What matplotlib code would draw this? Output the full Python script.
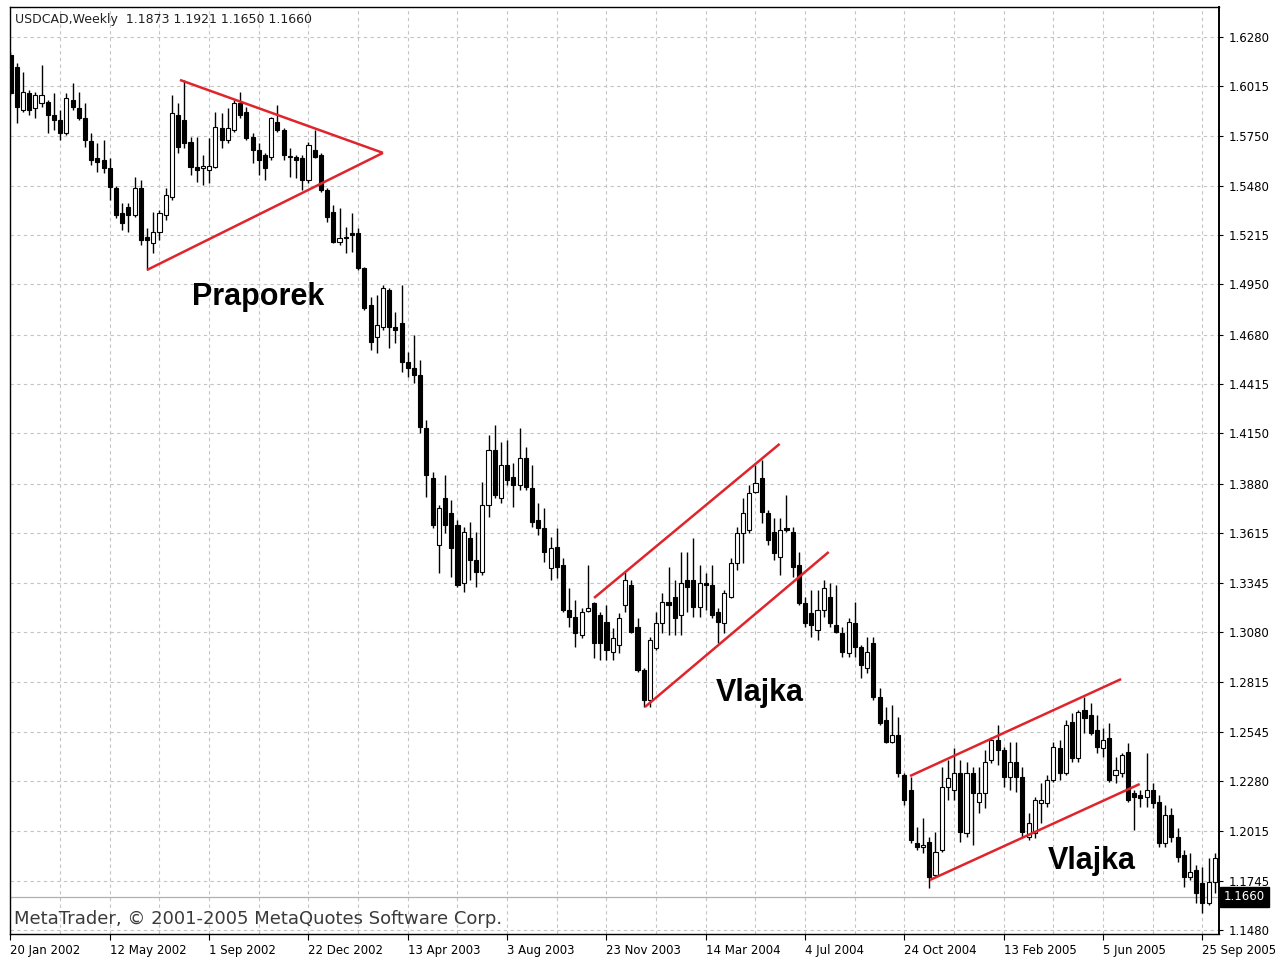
import matplotlib
matplotlib.use("Agg")
import matplotlib.pyplot as plt
import matplotlib.transforms as mtransforms
import numpy as np

# weekly USDCAD bars, 20 Jan 2002 .. 9 Oct 2005
opens = [
    1.6183, 1.6119, 1.5888, 1.5979, 1.5898, 1.5925, 1.5931, 1.5861, 1.5834, 1.5764,
    1.5941, 1.5898, 1.5845, 1.5721, 1.5630, 1.5619, 1.5576, 1.5469, 1.5334, 1.5366,
    1.5323, 1.5469, 1.5205, 1.5173, 1.5232, 1.5323, 1.5420, 1.5861, 1.5834, 1.5716,
    1.5581, 1.5576, 1.5565, 1.5581, 1.5791, 1.5726, 1.5780, 1.5925, 1.5877, 1.5743,
    1.5673, 1.5646, 1.5635, 1.5823, 1.5780, 1.5635, 1.5635, 1.5630, 1.5511, 1.5673,
    1.5646, 1.5458, 1.5339, 1.5178, 1.5205, 1.5227, 1.5227, 1.5039, 1.4840, 1.4668,
    1.4721, 1.4920, 1.4721, 1.4743, 1.4533, 1.4501, 1.4463, 1.4178, 1.3910, 1.3550,
    1.3802, 1.3722, 1.3657, 1.3345, 1.3587, 1.3469, 1.3404, 1.3765, 1.4060, 1.3802,
    1.3980, 1.3915, 1.3872, 1.4017, 1.3856, 1.3684, 1.3641, 1.3426, 1.3539, 1.3442,
    1.3200, 1.3162, 1.3066, 1.3195, 1.3238, 1.3173, 1.3136, 1.2974, 1.3012, 1.3227,
    1.3334, 1.3109, 1.2878, 1.2716, 1.2996, 1.3130, 1.3243, 1.3270, 1.3173, 1.3361,
    1.3361, 1.3216, 1.3345, 1.3334, 1.3189, 1.3130, 1.3270, 1.3453, 1.3614, 1.3630,
    1.3834, 1.3910, 1.3722, 1.3620, 1.3485, 1.3641, 1.3620, 1.3442, 1.3238, 1.3184,
    1.3093, 1.3200, 1.3270, 1.3120, 1.3077, 1.2969, 1.3130, 1.3001, 1.2888, 1.3023,
    1.2733, 1.2609, 1.2491, 1.2528, 1.2313, 1.2233, 1.1948, 1.1926, 1.1953, 1.1776,
    1.1910, 1.2249, 1.2233, 1.2324, 1.2002, 1.2324, 1.2168, 1.2217, 1.2394, 1.2501,
    1.2448, 1.2303, 1.2383, 1.2303, 1.1980, 1.2002, 1.2163, 1.2163, 1.2286, 1.2458,
    1.2324, 1.2598, 1.2405, 1.2663, 1.2636, 1.2555, 1.2458, 1.2512, 1.2313, 1.2324,
    1.2437, 1.2217, 1.2206, 1.2195, 1.2233, 1.2168, 1.1948, 1.2098, 1.1980, 1.1883,
    1.1765, 1.1803, 1.1733, 1.1625, 1.1738,
]
highs = [
    1.6199, 1.6140, 1.6092, 1.5995, 1.5984, 1.6129, 1.5941, 1.5979, 1.5888, 1.5979,
    1.6033, 1.5984, 1.5925, 1.5764, 1.5710, 1.5726, 1.5630, 1.5479, 1.5388, 1.5388,
    1.5528, 1.5511, 1.5254, 1.5339, 1.5350, 1.5469, 1.5968, 1.5925, 1.6049, 1.5743,
    1.5743, 1.5646, 1.5737, 1.5877, 1.5872, 1.5898, 1.5941, 1.5984, 1.5904, 1.5764,
    1.5710, 1.5657, 1.5850, 1.5915, 1.5791, 1.5683, 1.5646, 1.5646, 1.5716, 1.5780,
    1.5657, 1.5469, 1.5377, 1.5361, 1.5259, 1.5334, 1.5254, 1.5044, 1.4883, 1.4893,
    1.4947, 1.4931, 1.4802, 1.4947, 1.4587, 1.4678, 1.4544, 1.4221, 1.3942, 1.3765,
    1.3926, 1.3791, 1.3684, 1.3646, 1.3673, 1.3620, 1.3888, 1.4141, 1.4195, 1.4103,
    1.4114, 1.3990, 1.4178, 1.4076, 1.3980, 1.3775, 1.3749, 1.3593, 1.3641, 1.3479,
    1.3318, 1.3254, 1.3211, 1.3442, 1.3243, 1.3189, 1.3227, 1.3103, 1.3184, 1.3404,
    1.3361, 1.3157, 1.2888, 1.3055, 1.3189, 1.3292, 1.3431, 1.3361, 1.3512, 1.3512,
    1.3587, 1.3442, 1.3399, 1.3442, 1.3211, 1.3308, 1.3479, 1.3646, 1.3802, 1.3872,
    1.3980, 1.4006, 1.3738, 1.3695, 1.3695, 1.3818, 1.3646, 1.3512, 1.3270, 1.3308,
    1.3308, 1.3361, 1.3345, 1.3334, 1.3109, 1.3157, 1.3243, 1.3012, 1.3055, 1.3055,
    1.2781, 1.2679, 1.2690, 1.2625, 1.2324, 1.2303, 1.2034, 1.2082, 1.1980, 1.2007,
    1.2356, 1.2394, 1.2458, 1.2394, 1.2383, 1.2356, 1.2356, 1.2448, 1.2517, 1.2582,
    1.2464, 1.2491, 1.2491, 1.2356, 1.2109, 1.2195, 1.2270, 1.2313, 1.2491, 1.2501,
    1.2609, 1.2646, 1.2663, 1.2733, 1.2700, 1.2636, 1.2566, 1.2593, 1.2410, 1.2432,
    1.2485, 1.2233, 1.2233, 1.2432, 1.2270, 1.2206, 1.2152, 1.2136, 1.2029, 1.1910,
    1.1894, 1.1829, 1.1819, 1.1867, 1.1894,
]
lows = [
    1.5968, 1.5818, 1.5877, 1.5861, 1.5845, 1.5904, 1.5764, 1.5780, 1.5726, 1.5753,
    1.5888, 1.5834, 1.5689, 1.5592, 1.5554, 1.5549, 1.5404, 1.5307, 1.5243, 1.5232,
    1.5313, 1.5162, 1.5028, 1.5119, 1.5189, 1.5296, 1.5404, 1.5657, 1.5683, 1.5538,
    1.5501, 1.5485, 1.5495, 1.5576, 1.5683, 1.5710, 1.5770, 1.5845, 1.5726, 1.5603,
    1.5538, 1.5511, 1.5619, 1.5770, 1.5619, 1.5528, 1.5522, 1.5458, 1.5495, 1.5630,
    1.5447, 1.5286, 1.5173, 1.5162, 1.5119, 1.5124, 1.5028, 1.4813, 1.4598, 1.4582,
    1.4705, 1.4608, 1.4635, 1.4479, 1.4453, 1.4420, 1.4152, 1.3808, 1.3641, 1.3399,
    1.3614, 1.3378, 1.3324, 1.3297, 1.3361, 1.3324, 1.3388, 1.3700, 1.3802, 1.3775,
    1.3872, 1.3754, 1.3845, 1.3845, 1.3646, 1.3603, 1.3458, 1.3361, 1.3372, 1.3189,
    1.3109, 1.3001, 1.3050, 1.3189, 1.2942, 1.2931, 1.2931, 1.2931, 1.2969, 1.3189,
    1.3077, 1.2867, 1.2679, 1.2679, 1.2985, 1.3077, 1.3066, 1.3066, 1.3066, 1.3189,
    1.3162, 1.3162, 1.3200, 1.3157, 1.3023, 1.3077, 1.3265, 1.3415, 1.3453, 1.3614,
    1.3829, 1.3668, 1.3550, 1.3469, 1.3388, 1.3620, 1.3378, 1.3227, 1.3109, 1.3055,
    1.3039, 1.3162, 1.3109, 1.3077, 1.2948, 1.2948, 1.2948, 1.2835, 1.2861, 1.2716,
    1.2582, 1.2485, 1.2485, 1.2303, 1.2152, 1.1948, 1.1910, 1.1894, 1.1706, 1.1765,
    1.1899, 1.2179, 1.2179, 1.1953, 1.1980, 1.1937, 1.2109, 1.2136, 1.2378, 1.2367,
    1.2249, 1.2233, 1.2222, 1.1980, 1.1964, 1.1975, 1.2055, 1.2142, 1.2276, 1.2286,
    1.2313, 1.2383, 1.2383, 1.2539, 1.2528, 1.2432, 1.2410, 1.2276, 1.2270, 1.2303,
    1.2168, 1.2018, 1.2142, 1.2142, 1.2136, 1.1926, 1.1926, 1.1953, 1.1846, 1.1711,
    1.1749, 1.1625, 1.1571, 1.1614, 1.1679,
]
closes = [
    1.5979, 1.5904, 1.5984, 1.5888, 1.5968, 1.5968, 1.5861, 1.5834, 1.5764, 1.5952,
    1.5904, 1.5845, 1.5726, 1.5619, 1.5608, 1.5576, 1.5474, 1.5323, 1.5280, 1.5323,
    1.5469, 1.5189, 1.5189, 1.5232, 1.5334, 1.5431, 1.5872, 1.5689, 1.5710, 1.5581,
    1.5565, 1.5587, 1.5587, 1.5796, 1.5726, 1.5791, 1.5925, 1.5861, 1.5737, 1.5673,
    1.5619, 1.5576, 1.5845, 1.5780, 1.5646, 1.5641, 1.5619, 1.5511, 1.5700, 1.5635,
    1.5458, 1.5313, 1.5178, 1.5200, 1.5200, 1.5216, 1.5039, 1.4824, 1.4641, 1.4732,
    1.4931, 1.4721, 1.4705, 1.4533, 1.4501, 1.4463, 1.4184, 1.3926, 1.3657, 1.3749,
    1.3657, 1.3534, 1.3335, 1.3620, 1.3469, 1.3404, 1.3765, 1.4060, 1.3818, 1.3980,
    1.3899, 1.3872, 1.4017, 1.3861, 1.3673, 1.3641, 1.3512, 1.3534, 1.3431, 1.3200,
    1.3162, 1.3077, 1.3189, 1.3211, 1.3023, 1.3023, 1.2985, 1.3050, 1.3157, 1.3361,
    1.3082, 1.2878, 1.2716, 1.3039, 1.3130, 1.3243, 1.3227, 1.3157, 1.3345, 1.3324,
    1.3216, 1.3345, 1.3334, 1.3173, 1.3136, 1.3292, 1.3453, 1.3614, 1.3722, 1.3829,
    1.3883, 1.3727, 1.3576, 1.3507, 1.3630, 1.3630, 1.3431, 1.3238, 1.3130, 1.3120,
    1.3200, 1.3318, 1.3130, 1.3082, 1.2974, 1.3136, 1.3001, 1.2904, 1.2974, 1.2733,
    1.2593, 1.2491, 1.2528, 1.2324, 1.2179, 1.1964, 1.1926, 1.1937, 1.1765, 1.1899,
    1.2249, 1.2297, 1.2324, 1.2007, 1.2324, 1.2217, 1.2217, 1.2383, 1.2501, 1.2448,
    1.2303, 1.2383, 1.2303, 1.2007, 1.2055, 1.2179, 1.2179, 1.2286, 1.2464, 1.2324,
    1.2582, 1.2405, 1.2652, 1.2620, 1.2539, 1.2464, 1.2501, 1.2286, 1.2340, 1.2421,
    1.2179, 1.2195, 1.2190, 1.2233, 1.2163, 1.1948, 1.2098, 1.1980, 1.1872, 1.1765,
    1.1792, 1.1679, 1.1625, 1.1738, 1.1867,
]

date_labels = ["20 Jan 2002", "12 May 2002", "1 Sep 2002", "22 Dec 2002", "13 Apr 2003",
               "3 Aug 2003", "23 Nov 2003", "14 Mar 2004", "4 Jul 2004", "24 Oct 2004",
               "13 Feb 2005", "5 Jun 2005", "25 Sep 2005"]
price_ticks = [1.6280, 1.6015, 1.5750, 1.5480, 1.5215, 1.4950, 1.4680, 1.4415, 1.4150, 1.3880,
               1.3615, 1.3345, 1.3080, 1.2815, 1.2545, 1.2280, 1.2015, 1.1745, 1.1480]
last_price = 1.1660

# drawn pattern lines: (bar index, price) pairs
pennant_upper = [(27.3, 1.6049), (60.0, 1.5657)]
pennant_lower = [(22.0, 1.5028), (60.0, 1.5657)]
flag1_upper = [(94.0, 1.3265), (123.9, 1.4093)]
flag1_lower = [(102.2, 1.2679), (131.8, 1.3512)]
flag2_upper = [(144.9, 1.2308), (178.9, 1.2829)]
flag2_lower = [(148.1, 1.1749), (181.9, 1.2265)]
pattern_names = [("Praporek", 39.9, 1.4883), ("Vlajka", 120.7, 1.2754), ("Vlajka", 174.2, 1.1850)]

o = np.array(opens)
h = np.array(highs)
l = np.array(lows)
c = np.array(closes)
x = np.arange(len(o))

fig = plt.figure(figsize=(12.78, 9.59), dpi=100)
ax = fig.add_axes([10 / 1278, 25 / 959, 1209 / 1278, 927 / 959])

# grid
grid_kw = dict(color="#c4c4c4", lw=0.8, linestyle=(0, (3, 3)), zorder=0)
for xv in range(0, len(o), 8):
    ax.axvline(xv, **grid_kw)
for yv in price_ticks:
    ax.axhline(yv, **grid_kw)

ax.axhline(last_price, color="#b0b0b0", lw=0.9, zorder=1)

# candles
up = c >= o
ax.vlines(x, l, h, color="black", lw=1.0, zorder=2)
body_h = np.maximum(np.abs(c - o), 0.0003)
ax.bar(x, body_h, bottom=np.minimum(o, c), width=0.66,
       color=np.where(up, "white", "black"), edgecolor="black", lw=0.8, zorder=3)

red = "#e0242c"
for seg in [pennant_upper, pennant_lower, flag1_upper, flag1_lower, flag2_upper, flag2_lower]:
    xs, ys = zip(*seg)
    ax.plot(xs, ys, color=red, lw=1.8, solid_capstyle="butt", zorder=4)

for name, px, py in pattern_names:
    ax.text(px, py, name, fontsize=22, fontweight="bold", family="Liberation Sans",
            ha="center", va="center", zorder=5)

ax.text(0.004, 0.993, "USDCAD,Weekly  1.1873 1.1921 1.1650 1.1660", transform=ax.transAxes,
        fontsize=9, ha="left", va="top", color="#202020")
ax.text(0.003, 0.0165, "MetaTrader, \u00a9 2001-2005 MetaQuotes Software Corp.", transform=ax.transAxes,
        fontsize=13, ha="left", va="center", color="#3a3a3a")

ax.set_xlim(-0.08, 194.67)
ax.set_ylim(1.1459, 1.6441)

ax.yaxis.tick_right()
ax.set_yticks(price_ticks)
ax.set_yticklabels(["%.4f" % p for p in price_ticks], fontsize=8.5)
ax.set_xticks(range(0, 16 * len(date_labels), 16))
ax.set_xticklabels(date_labels, fontsize=8.5, ha="left")
ax.tick_params(axis="x", length=4, width=0.8, pad=3)
ax.tick_params(axis="y", length=3, width=0.8, pad=4)

for sp in ax.spines.values():
    sp.set_linewidth(1.0)
ax.spines["right"].set_linewidth(1.4)

# last price marker on the axis
trans = mtransforms.blended_transform_factory(ax.transAxes, ax.transData)
ax.text(1.004, last_price, "%.4f" % last_price, transform=trans, fontsize=8.5, color="white",
        ha="left", va="center", zorder=6,
        bbox=dict(boxstyle="square,pad=0.3", fc="black", ec="black"), clip_on=False)

fig.savefig("out.png", dpi=100)
